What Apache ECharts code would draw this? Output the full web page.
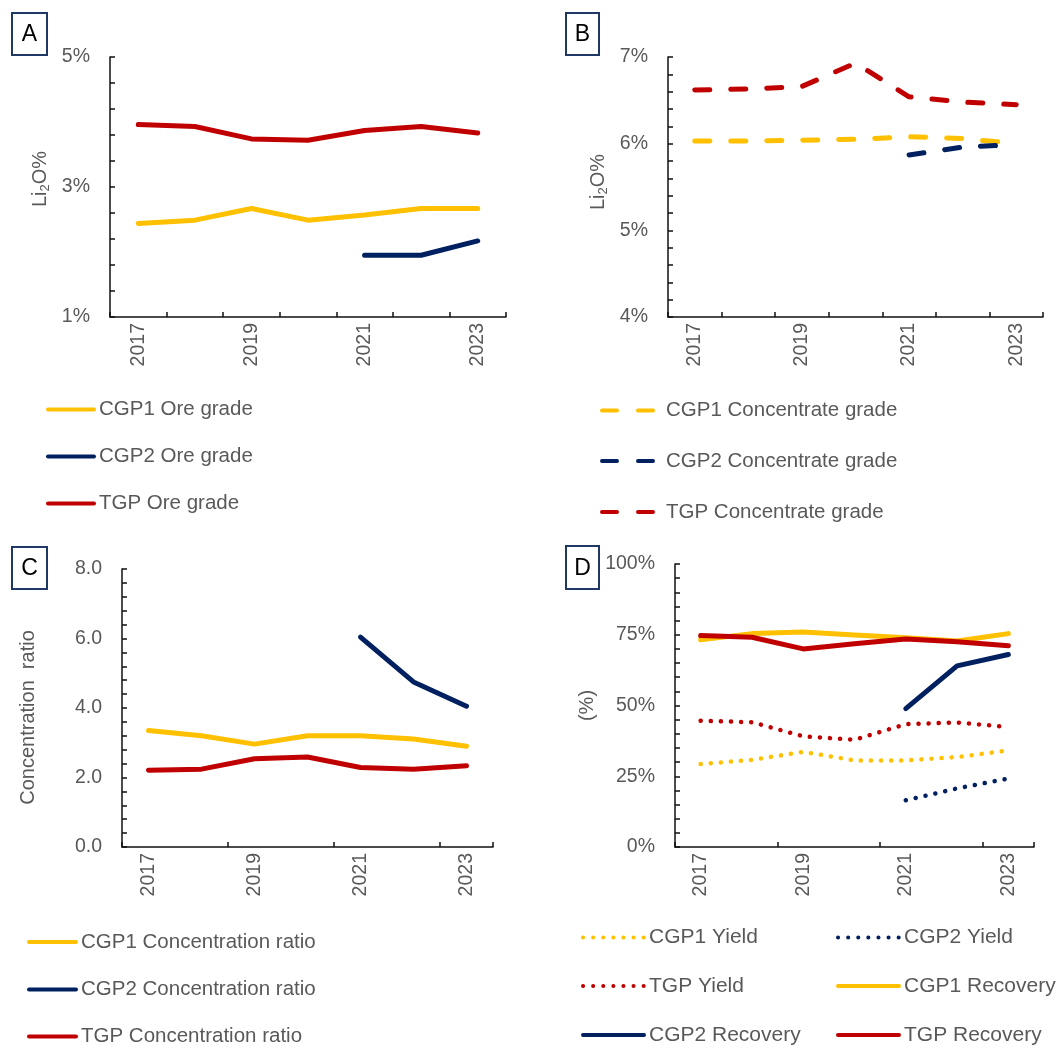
<!DOCTYPE html>
<html>
<head>
<meta charset="utf-8">
<script src="https://cdn.jsdelivr.net/npm/echarts@6/dist/echarts.min.js"></script>
<style>
html,body{margin:0;padding:0;background:#fff;}
#chart{width:1059px;height:1048px;}
</style>
</head>
<body>
<div id="chart"></div>
<script>
// ---------- data ----------
const years = ['2017', '2018', '2019', '2020', '2021', '2022', '2023'];

// Panel A: ore grade (Li2O %)
const cgp1Ore = [2.44, 2.49, 2.67, 2.49, 2.57, 2.67, 2.67];
const cgp2Ore = [null, null, null, null, 1.95, 1.95, 2.17];
const tgpOre  = [3.96, 3.93, 3.74, 3.72, 3.87, 3.93, 3.83];

// Panel B: concentrate grade (Li2O %)
const cgp1Conc = [6.03, 6.03, 6.04, 6.05, 6.08, 6.06, 6.00];
const cgp2Conc = [null, null, null, null, 5.87, 5.96, 5.99];
const tgpConc  = [6.62, 6.63, 6.66, 6.93, 6.54, 6.48, 6.45];

// Panel C: concentration ratio
const cgp1Ratio = [3.35, 3.20, 2.96, 3.20, 3.20, 3.11, 2.90];
const cgp2Ratio = [null, null, null, null, 6.04, 4.75, 4.05];
const tgpRatio  = [2.21, 2.24, 2.54, 2.59, 2.29, 2.24, 2.34];

// Panel D: yield and recovery (%)
const cgp1Yield    = [29.3, 30.8, 33.6, 30.6, 30.6, 31.8, 34.1];
const cgp2Yield    = [null, null, null, null, 16.5, 20.7, 24.2];
const tgpYield     = [44.6, 44.1, 39.1, 37.9, 43.4, 44.0, 42.4];
const cgp1Recovery = [73.2, 75.4, 76.0, 74.9, 73.9, 72.8, 75.4];
const cgp2Recovery = [null, null, null, null, 48.9, 64.0, 68.0];
const tgpRecovery  = [74.7, 74.1, 70.0, 71.8, 73.5, 72.5, 71.1];

const panelLetters = ['A', 'B', 'C', 'D'];

// ---------- styling ----------
const FONT = "'Liberation Sans', Arial, sans-serif";
const YELLOW = '#FFC000', NAVY = '#002060', RED = '#C00000';
const TXT = '#595959', AX = '#111';

function xAx(gi, tickInterval) {
  return {
    type: 'category', gridIndex: gi, data: years, boundaryGap: true,
    axisLine: { show: true, lineStyle: { color: AX, width: 1.5 } },
    axisTick: { show: true, inside: true, length: 5, interval: tickInterval, lineStyle: { color: AX, width: 1.5 } },
    axisLabel: { interval: 1, rotate: 90, margin: 6, color: TXT, fontSize: 19.5, fontFamily: FONT },
    splitLine: { show: false }
  };
}
function yAx(gi, min, max, interval, fmt, name, nameGap, namePad, rich) {
  const o = {
    type: 'value', gridIndex: gi, min: min, max: max, interval: interval,
    axisLine: { show: true, lineStyle: { color: AX, width: 1.5 } },
    axisTick: { show: true, inside: true, length: 5, lineStyle: { color: AX, width: 1.5 } },
    minorTick: { show: true, splitNumber: 5, length: 5, lineStyle: { color: AX, width: 1.5 } },
    axisLabel: { margin: 20, color: TXT, fontSize: 19.5, fontFamily: FONT, formatter: fmt },
    splitLine: { show: false },
    name: name, nameLocation: 'middle', nameRotate: 90, nameGap: nameGap,
    nameTextStyle: { color: TXT, fontSize: 20, fontFamily: FONT, padding: namePad }
  };
  if (rich) o.nameTextStyle.rich = rich;
  return o;
}
function ln(name, data, ai, color, width, type) {
  return {
    type: 'line', name: name, data: data, xAxisIndex: ai, yAxisIndex: ai,
    symbol: 'none', showSymbol: false, connectNulls: false, silent: true,
    lineStyle: { color: color, width: width, type: type || 'solid', cap: 'round', join: 'round' },
    itemStyle: { color: color },
    emphasis: { disabled: true }
  };
}
const pct = v => v + '%';
const dec1 = v => v.toFixed(1);

const liRich = {
  n: { fontSize: 20, lineHeight: 24, color: TXT, fontFamily: FONT, verticalAlign: 'middle' },
  s: { fontSize: 13, lineHeight: 13, color: TXT, fontFamily: FONT, verticalAlign: 'bottom' }
};

// one legend component per entry so that each entry sits exactly where the reference has it
function lg(name, left, centerY, itemWidth, fontSize) {
  return {
    orient: 'horizontal', selectedMode: false, padding: 0,
    data: [name], left: left, top: centerY - 11,
    itemWidth: itemWidth, itemHeight: 14,
    textStyle: { color: TXT, fontSize: fontSize, lineHeight: 22, fontFamily: FONT },
    lineStyle: { width: 4 },
    itemStyle: { opacity: 0 }
  };
}

const boxes = [
  { x: 12, y: 13, w: 35, h: 42 },
  { x: 566, y: 13, w: 33, h: 42 },
  { x: 12, y: 547, w: 35, h: 42 },
  { x: 566, y: 546, w: 33, h: 43 }
];
const graphics = [];
boxes.forEach((b, i) => {
  graphics.push({
    type: 'rect', shape: { x: b.x, y: b.y, width: b.w, height: b.h },
    style: { fill: '#fff', stroke: '#1F3864', lineWidth: 2 }, z: 10
  });
  graphics.push({
    type: 'text', x: b.x + b.w / 2, y: b.y + b.h / 2 + 1,
    style: { text: panelLetters[i], fill: '#000', fontSize: 23, fontFamily: FONT, align: 'center', verticalAlign: 'middle' }, z: 11
  });
});

const option = {
  animation: false,
  backgroundColor: '#fff',
  textStyle: { fontFamily: FONT },
  grid: [
    { left: 110, top: 57, width: 396, height: 260, outerBoundsMode: 'none' },
    { left: 668, top: 57, width: 375, height: 260, outerBoundsMode: 'none' },
    { left: 122, top: 569, width: 371, height: 278, outerBoundsMode: 'none' },
    { left: 675, top: 564, width: 359, height: 283, outerBoundsMode: 'none' }
  ],
  xAxis: [xAx(0, 0), xAx(1, 0), xAx(2, 1), xAx(3, 1)],
  yAxis: [
    yAx(0, 1, 5, 2, pct, '{n|Li}{s|2}{n|O%}', 58, [0, 0, 0, 16], liRich),
    yAx(1, 4, 7, 1, pct, '{n|Li}{s|2}{n|O%}', 58, [0, 0, 0, 10], liRich),
    yAx(2, 0, 8, 2, dec1, 'Concentration  ratio', 84, [0, 19, 0, 0]),
    yAx(3, 0, 100, 25, pct, '(%)', 78, [0, 0, 0, 0])
  ],
  legend: [
    lg('CGP1 Ore grade', 46, 409.5, 46, 20.5),
    lg('CGP2 Ore grade', 46, 456.5, 46, 20.5),
    lg('TGP Ore grade', 46, 503.5, 46, 20.5),

    lg('CGP1 Concentrate grade', 600, 410.5, 59, 20.5),
    lg('CGP2 Concentrate grade', 600, 461, 59, 20.5),
    lg('TGP Concentrate grade', 600, 512, 59, 20.5),

    lg('CGP1 Concentration ratio', 27, 942, 47, 20.5),
    lg('CGP2 Concentration ratio', 27, 989.5, 47, 20.5),
    lg('TGP Concentration ratio', 27, 1036.5, 47, 20.5),

    lg('CGP1 Yield', 581, 937.5, 61, 21),
    lg('TGP Yield', 581, 986, 61, 21),
    lg('CGP2 Recovery', 581, 1035, 61, 21),
    lg('CGP2 Yield', 836, 937.5, 61, 21),
    lg('CGP1 Recovery', 836, 986, 61, 21),
    lg('TGP Recovery', 836, 1035, 61, 21)
  ],
  series: [
    ln('CGP1 Ore grade', cgp1Ore, 0, YELLOW, 5),
    ln('CGP2 Ore grade', cgp2Ore, 0, NAVY, 5),
    ln('TGP Ore grade', tgpOre, 0, RED, 5),

    ln('CGP1 Concentrate grade', cgp1Conc, 1, YELLOW, 5, [15, 21]),
    ln('CGP2 Concentrate grade', cgp2Conc, 1, NAVY, 5, [15, 21]),
    ln('TGP Concentrate grade', tgpConc, 1, RED, 5, [15, 21]),

    ln('CGP1 Concentration ratio', cgp1Ratio, 2, YELLOW, 5),
    ln('CGP2 Concentration ratio', cgp2Ratio, 2, NAVY, 5),
    ln('TGP Concentration ratio', tgpRatio, 2, RED, 5),

    ln('CGP1 Yield', cgp1Yield, 3, YELLOW, 4.5, [0.1, 10]),
    ln('CGP2 Yield', cgp2Yield, 3, NAVY, 4.5, [0.1, 10]),
    ln('TGP Yield', tgpYield, 3, RED, 4.5, [0.1, 10]),
    ln('CGP1 Recovery', cgp1Recovery, 3, YELLOW, 5),
    ln('CGP2 Recovery', cgp2Recovery, 3, NAVY, 5),
    ln('TGP Recovery', tgpRecovery, 3, RED, 5)
  ],
  graphic: graphics
};

const chart = echarts.init(document.getElementById('chart'), null, { renderer: 'canvas', width: 1059, height: 1048 });
chart.setOption(option);
</script>
</body>
</html>
